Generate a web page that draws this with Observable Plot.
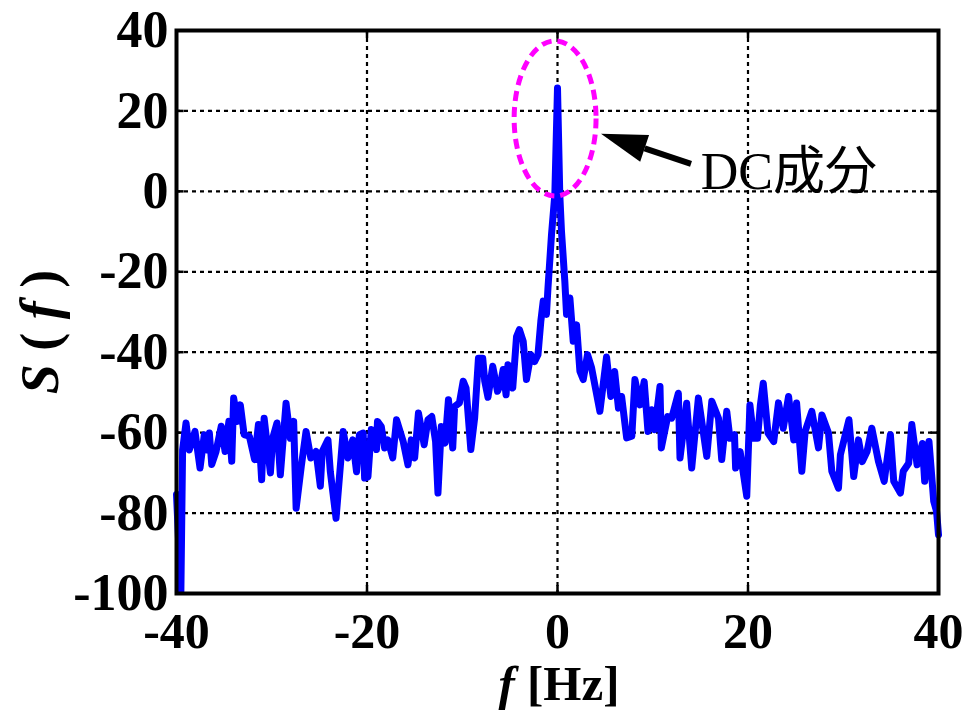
<!DOCTYPE html>
<html>
<head>
<meta charset="utf-8">
<script src="https://cdn.jsdelivr.net/npm/d3@7"></script>
<script src="https://cdn.jsdelivr.net/npm/@observablehq/plot@0.6"></script>
<style>
  body { margin: 0; background: #ffffff; }
  #chart { width: 965px; height: 712px; }
</style>
</head>
<body>
<div id="chart"></div>
<script>
// ---- data ----
const freq = [-40,-39.54,-39.36,-39.0,-38.66,-38.06,-37.53,-37.08,-36.8,-36.55,-36.3,-35.85,-35.3,-34.9,-34.5,-34.2,-34.0,-33.6,-33.3,-32.9,-32.35,-31.8,-31.4,-31.06,-30.8,-30.14,-29.9,-29.45,-29.1,-28.5,-28.05,-27.7,-27.44,-26.9,-26.4,-25.9,-25.35,-24.9,-24.7,-24.1,-23.85,-23.25,-22.5,-22.0,-21.5,-21.1,-20.8,-20.4,-20.25,-19.9,-19.55,-19.0,-18.9,-18.5,-18.15,-17.8,-17.3,-16.9,-16.2,-15.7,-15.35,-15.0,-14.6,-14.0,-13.6,-13.2,-12.8,-12.55,-12.2,-11.8,-11.45,-11.0,-10.8,-10.3,-9.9,-9.6,-9.1,-8.7,-8.3,-7.85,-7.64,-7.3,-6.8,-6.3,-6.0,-5.7,-5.4,-5.2,-4.7,-4.3,-4.0,-3.6,-3.26,-2.8,-2.4,-2.05,-1.75,-1.5,-1.16,-1.0,-0.63,-0.28,0.0,0.24,0.42,0.77,0.95,1.3,1.65,2.0,2.35,2.7,3.15,3.58,4.45,5.15,5.6,6.0,6.4,6.73,7.26,7.8,8.13,8.66,9.1,9.5,9.9,10.2,10.76,10.9,11.57,11.99,12.69,12.86,13.56,14.09,14.79,15.67,16.2,16.9,17.24,17.77,18.1,18.58,18.7,19.17,19.87,20.2,20.6,21.0,21.3,21.6,22.1,22.7,23.2,23.7,24.26,24.8,25.1,25.65,26.0,26.7,27.4,27.76,28.45,28.8,29.5,29.7,30.6,31.1,31.6,32.0,32.5,33.0,33.7,34.3,34.95,35.3,36.0,36.3,36.87,37.2,37.75,38.3,38.55,39.0,39.5,39.8,40.0];
const power = [-75.4,-99.5,-64.3,-57.6,-64.3,-59.7,-68.8,-60.5,-64.3,-60.1,-67.9,-64.7,-58.4,-64.7,-57.2,-67.1,-51.4,-57.2,-53.1,-60.5,-60.9,-66.7,-58.0,-71.7,-56.4,-70.0,-61.4,-57.6,-70.5,-52.7,-61.4,-57.2,-78.8,-68.4,-59.7,-66.3,-64.7,-73.3,-64.7,-61.8,-69.7,-81.3,-59.7,-66.3,-61.8,-69.7,-60.5,-60.1,-71.3,-71.0,-59.2,-64.2,-57.2,-58.5,-63.8,-61.8,-66.3,-56.8,-62.2,-68.0,-61.8,-66.3,-55.1,-63.0,-56.8,-56.0,-62.2,-75.0,-58.5,-62.6,-51.8,-63.8,-53.5,-52.6,-47.2,-48.9,-64.2,-56.4,-41.5,-41.5,-47.2,-51.2,-43.5,-49.7,-48.1,-44.3,-50.6,-43.1,-48.9,-36.1,-34.4,-37.3,-46.8,-40.6,-42.3,-40.6,-32.3,-27.3,-30.6,-24.0,-10.8,-0.8,25.7,-0.8,-10.0,-22.4,-30.6,-26.5,-37.3,-33.2,-44.7,-46.8,-40.6,-43.9,-54.7,-41.2,-51.0,-44.8,-53.9,-51.0,-61.3,-60.9,-46.8,-53.1,-47.3,-59.7,-54.3,-59.3,-48.5,-63.8,-56.0,-56.4,-50.2,-66.3,-52.7,-68.8,-51.4,-65.9,-52.2,-56.4,-66.7,-54.7,-61.4,-60.5,-68.8,-64.7,-75.8,-53.1,-61.4,-61.4,-53.1,-47.7,-60.1,-62.2,-52.6,-58.9,-51.0,-61.8,-52.6,-69.6,-59.7,-54.7,-63.8,-55.6,-60.1,-69.6,-73.8,-65.5,-56.8,-70.9,-61.8,-67.2,-64.7,-58.9,-67.2,-72.1,-60.5,-72.1,-75.0,-69.6,-67.6,-58.0,-68.0,-62.7,-72.1,-62.2,-77.1,-79.6,-85.4];

const xTicks = [-40, -20, 0, 20, 40];
const yTicks = [-100, -80, -60, -40, -20, 0, 20, 40];
const xLabelItalic = "f";
const xLabelRest = " [Hz]";
const yLabelS = "S";
const yLabelF = "f";
const annotationText = "DC成分";

// annotation anchors (data units)
const ellipseCenter = [-0.2, 18.0];
const ellipseRadii = [4.3, 19.3];
const arrowTip = [4.62, 14.2];
const arrowTail = [14.07, 6.7];
const annotationAnchor = [15.1, 0.5];

const data = freq.map((f, i) => ({f, s: power[i]}));
const fmt = d => String(d);

const chart = Plot.plot({
  width: 965,
  height: 712,
  marginLeft: 176,
  marginRight: 27,
  marginTop: 30,
  marginBottom: 119,
  style: {background: "#ffffff", color: "#000000", fontFamily: "'Liberation Serif', 'Times New Roman', serif"},
  x: {domain: [-40, 40]},
  y: {domain: [-100, 40]},
  marks: [
    Plot.ruleX(xTicks.slice(1, -1), {stroke: "#000", strokeWidth: 2.2, strokeDasharray: "4,4"}),
    Plot.ruleY(yTicks.slice(1, -1), {stroke: "#000", strokeWidth: 2.2, strokeDasharray: "4,4"}),
    // inward tick marks
    Plot.ruleX(xTicks, {y1: -100, y2: -98, stroke: "#000", strokeWidth: 2.5}),
    Plot.ruleX(xTicks, {y1: 40, y2: 38, stroke: "#000", strokeWidth: 2.5}),
    Plot.ruleY(yTicks, {x1: -40, x2: -39.2, stroke: "#000", strokeWidth: 2.5}),
    Plot.ruleY(yTicks, {x1: 40, x2: 39.2, stroke: "#000", strokeWidth: 2.5}),
    Plot.axisX({ticks: xTicks, tickFormat: fmt, tickSize: 0, tickPadding: 19, fontSize: 50, fontWeight: "bold", label: null}),
    Plot.axisY({ticks: yTicks, tickFormat: fmt, tickSize: 0, tickPadding: 8, fontSize: 52, fontWeight: "bold", label: null}),
    Plot.line(data, {x: "f", y: "s", stroke: "#0000ff", strokeWidth: 7, strokeLinejoin: "round", strokeLinecap: "round"}),
    Plot.frame({stroke: "#000", strokeWidth: 4})
  ]
});

const X = chart.scale("x"), Y = chart.scale("y");
const px = v => X.apply(v), py = v => Y.apply(v);
const svg = d3.select(chart);

// magenta dashed ellipse
const cx = px(ellipseCenter[0]), cy = py(ellipseCenter[1]);
svg.append("ellipse")
  .attr("cx", cx).attr("cy", cy)
  .attr("rx", Math.abs(px(ellipseCenter[0] + ellipseRadii[0]) - cx))
  .attr("ry", Math.abs(py(ellipseCenter[1] + ellipseRadii[1]) - cy))
  .attr("fill", "none").attr("stroke", "#ff00ff")
  .attr("stroke-width", 5).attr("stroke-dasharray", "10,6");

// arrow
const tx = px(arrowTip[0]), ty = py(arrowTip[1]);
const sx = px(arrowTail[0]), sy = py(arrowTail[1]);
const len = Math.hypot(tx - sx, ty - sy);
const ux = (sx - tx) / len, uy = (sy - ty) / len;
const headLen = 46, headHalf = 14;
const bx = tx + ux * headLen, by = ty + uy * headLen;
svg.append("line")
  .attr("x1", sx).attr("y1", sy).attr("x2", bx).attr("y2", by)
  .attr("stroke", "#000").attr("stroke-width", 6);
svg.append("polygon")
  .attr("points", [[tx, ty], [bx - uy * headHalf, by + ux * headHalf], [bx + uy * headHalf, by - ux * headHalf]].map(p => p.join(",")).join(" "))
  .attr("fill", "#000");

// annotation text
svg.append("text")
  .attr("x", px(annotationAnchor[0])).attr("y", py(annotationAnchor[1]))
  .attr("text-anchor", "start")
  .attr("font-family", "'Liberation Serif', 'Noto Sans CJK JP', serif")
  .attr("font-size", 52).attr("fill", "#000")
  .text(annotationText);

// axis labels
const xl = svg.append("text")
  .attr("x", (176 + (965 - 27)) / 2 + 2).attr("y", 700)
  .attr("text-anchor", "middle")
  .attr("font-family", "'Liberation Serif', serif")
  .attr("font-size", 49).attr("font-weight", "bold").attr("fill", "#000");
xl.append("tspan").attr("font-style", "italic").text(xLabelItalic);
xl.append("tspan").text(xLabelRest);

const yl = svg.append("text")
  .attr("transform", "translate(58,332) rotate(-90)")
  .attr("text-anchor", "middle")
  .attr("font-family", "'Liberation Serif', serif")
  .attr("font-size", 54).attr("font-weight", "bold").attr("fill", "#000");
yl.append("tspan").attr("font-style", "italic").text(yLabelS);
yl.append("tspan").text(" ( ");
yl.append("tspan").attr("font-style", "italic").text(yLabelF);
yl.append("tspan").text(" )");

document.getElementById("chart").appendChild(chart);
</script>
</body>
</html>
